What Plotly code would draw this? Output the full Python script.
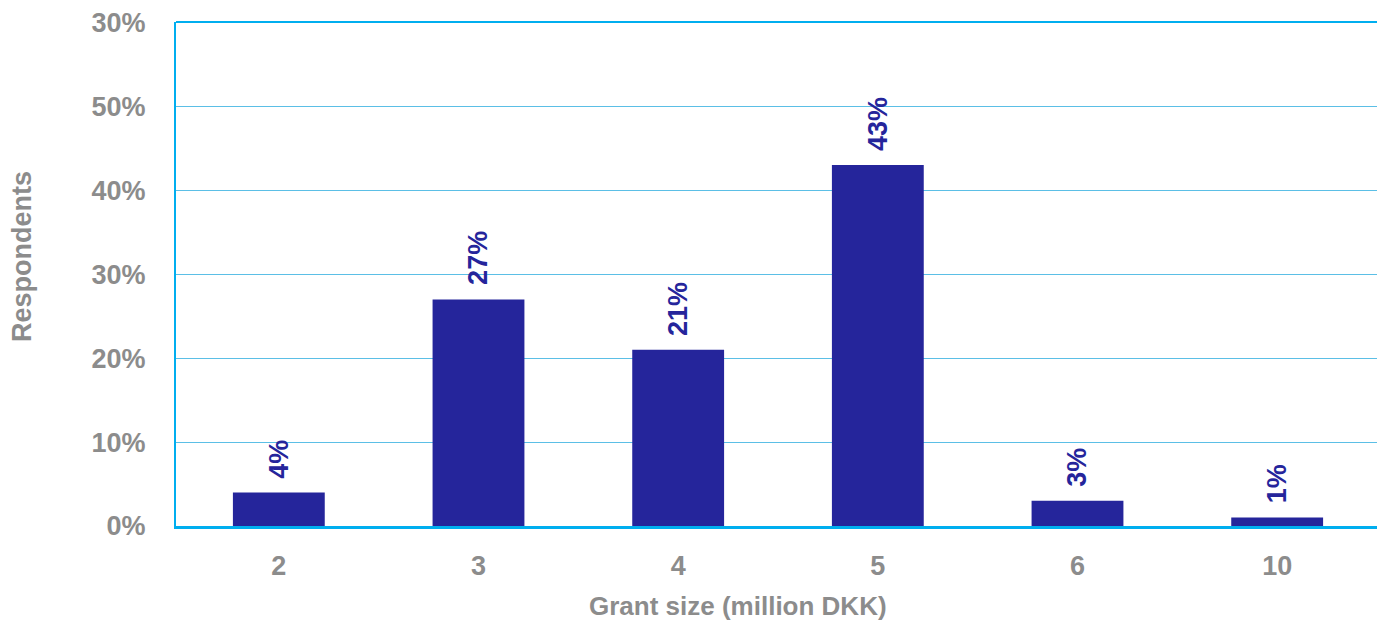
import plotly.graph_objects as go

categories = ["2", "3", "4", "5", "6", "10"]
values = [4, 27, 21, 43, 3, 1]
labels = ["4%", "27%", "21%", "43%", "3%", "1%"]
tick_vals = [0, 10, 20, 30, 40, 50, 60]
tick_text = ["0%", "10%", "20%", "30%", "40%", "50%", "30%"]
x_title = "Grant size (million DKK)"
y_title = "Respondents"

BAR = "#25259B"
GREY = "#8C8C8C"
BLUE = "#00AEEF"
GRID = "#5BBFE6"
FONT = "Liberation Sans, Arial, sans-serif"

idx = list(range(len(categories)))
fig = go.Figure(go.Bar(x=idx, y=values, marker_color=BAR, marker_line_width=0))

for i, v, t in zip(idx, values, labels):
    fig.add_annotation(x=i, y=v, text="<b>%s</b>" % t, textangle=-90, showarrow=False,
                       yanchor="bottom", xanchor="center", yshift=12,
                       font=dict(family=FONT, size=27, color=BAR))

fig.add_annotation(xref="paper", yref="paper", x=0.4683, y=-0.1587, text="<b>%s</b>" % x_title,
                   showarrow=False, xanchor="center", yanchor="middle",
                   font=dict(family=FONT, size=26, color=GREY))
fig.add_annotation(xref="paper", yref="paper", x=-0.1283, y=0.5357, text="<b>%s</b>" % y_title,
                   showarrow=False, textangle=-90, xanchor="center", yanchor="middle",
                   font=dict(family=FONT, size=27, color=GREY))

fig.update_layout(
    width=1381, height=621,
    margin=dict(l=176, r=4, t=22, b=95),
    paper_bgcolor="white", plot_bgcolor="white",
    bargap=0.54,
    showlegend=False,
    font=dict(family=FONT, color=GREY),
)
fig.update_xaxes(
    range=[-0.515, len(categories) - 0.5], tickvals=idx, ticktext=categories,
    showline=True, linecolor=BLUE, linewidth=3,
    showgrid=False, zeroline=False, ticks="", ticklabelstandoff=14,
    tickfont=dict(family=FONT, size=27, color=GREY, weight="bold"),
)
fig.update_yaxes(
    range=[0, 60.05], tickvals=tick_vals, ticktext=tick_text,
    showline=True, linecolor=BLUE, linewidth=2, zeroline=False,
    showgrid=True, gridcolor=GRID, gridwidth=1, ticks="", ticklabelstandoff=23,
    tickfont=dict(family=FONT, size=27, color=GREY, weight="bold"),
)
fig.add_shape(type="line", xref="paper", yref="paper", x0=0, x1=1, y0=1, y1=1,
              line=dict(color=BLUE, width=2))

fig.write_html("out.html")
